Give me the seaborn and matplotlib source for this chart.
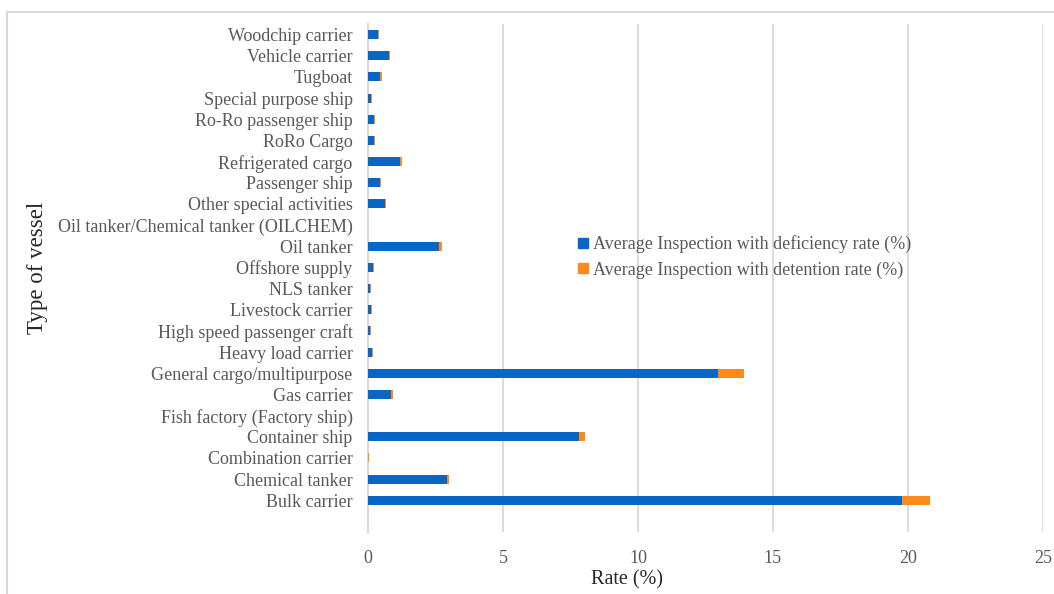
import matplotlib
matplotlib.use("Agg")
import matplotlib.pyplot as plt
from matplotlib.patches import Rectangle
from matplotlib.lines import Line2D
import seaborn as sns
import pandas as pd

vessel_types = [
    "Woodchip carrier", "Vehicle carrier", "Tugboat", "Special purpose ship",
    "Ro-Ro passenger ship", "RoRo Cargo", "Refrigerated cargo", "Passenger ship",
    "Other special activities", "Oil tanker/Chemical tanker (OILCHEM)", "Oil tanker",
    "Offshore supply", "NLS tanker", "Livestock carrier", "High speed passenger craft",
    "Heavy load carrier", "General cargo/multipurpose", "Gas carrier",
    "Fish factory (Factory ship)", "Container ship", "Combination carrier",
    "Chemical tanker", "Bulk carrier",
]
deficiency_rate = [
    0.38, 0.78, 0.45, 0.12, 0.22, 0.22, 1.18, 0.45, 0.64, 0.0, 2.62,
    0.18, 0.08, 0.13, 0.07, 0.16, 12.98, 0.87, 0.0, 7.80, 0.0, 2.92, 19.77,
]
detention_rate = [
    0.03, 0.03, 0.06, 0.03, 0.05, 0.05, 0.07, 0.05, 0.03, 0.0, 0.11,
    0.03, 0.04, 0.02, 0.03, 0.04, 0.93, 0.05, 0.0, 0.24, 0.04, 0.08, 1.05,
]
legend_labels = [
    "Average Inspection with deficiency rate (%)",
    "Average Inspection with detention rate (%)",
]

BLUE = "#0766C6"
ORANGE = "#FF8A1C"
GRID = "#D9D9D9"
TEXT = "#595959"

df = pd.DataFrame({
    "vessel": vessel_types,
    "deficiency": deficiency_rate,
    "detention": detention_rate,
})
df["total"] = df["deficiency"] + df["detention"]

sns.set_theme(style="white")
plt.rcParams["font.family"] = ["Liberation Serif", "DejaVu Serif"]

fig = plt.figure(figsize=(10.54, 5.94), dpi=100)
ax = fig.add_axes([0.349, 0.1044, 0.6406, 0.8552])

# stacked bars: total (orange) underneath, deficiency (blue) on top
sns.barplot(data=df, x="total", y="vessel", color=ORANGE, width=0.42,
            saturation=1, linewidth=0, ax=ax, zorder=3)
sns.barplot(data=df, x="deficiency", y="vessel", color=BLUE, width=0.42,
            saturation=1, linewidth=0, ax=ax, zorder=4)

ax.set_xlim(0, 25)
ax.set_ylim(len(vessel_types) - 1 + 1.5, -0.5)
ax.set_xticks([0, 5, 10, 15, 20, 25])
ax.set_xticklabels(["0", "5", "10", "15", "20", "25"])
ax.xaxis.grid(True, color=GRID, linewidth=1.3, zorder=0)
ax.yaxis.grid(False)
ax.set_axisbelow(True)
for side in ["top", "right", "bottom"]:
    ax.spines[side].set_visible(False)
ax.spines["left"].set_color(GRID)
ax.spines["left"].set_linewidth(1.5)
ax.tick_params(axis="both", length=0, colors=TEXT, labelsize=13)
ax.tick_params(axis="y", pad=11)
ax.tick_params(axis="x", pad=13)

ax.set_xlabel("Rate (%)", fontsize=14.5, color="#262626")
ax.xaxis.set_label_coords(0.3837, -0.075)
ax.set_ylabel("Type of vessel", fontsize=16.5, color="#262626")
ax.yaxis.set_label_coords(-0.474, 0.52)

handles = [
    Line2D([], [], marker="s", linestyle="", markersize=7, color=BLUE),
    Line2D([], [], marker="s", linestyle="", markersize=7, color=ORANGE),
]
fig.legend(handles, legend_labels, loc="upper left",
           bbox_to_anchor=(570 / 1054, 1 - 228 / 594), frameon=False,
           fontsize=13, labelcolor=TEXT, handlelength=0.6, handletextpad=0.3,
           labelspacing=0.45, borderaxespad=0)

# light outer frame around the chart area
fig.add_artist(Rectangle((7 / 1054, -0.1), 1.2, 1.1 - 12 / 594,
                         transform=fig.transFigure, fill=False,
                         edgecolor=GRID, linewidth=1.5))

fig.savefig("out.png", dpi=100)
